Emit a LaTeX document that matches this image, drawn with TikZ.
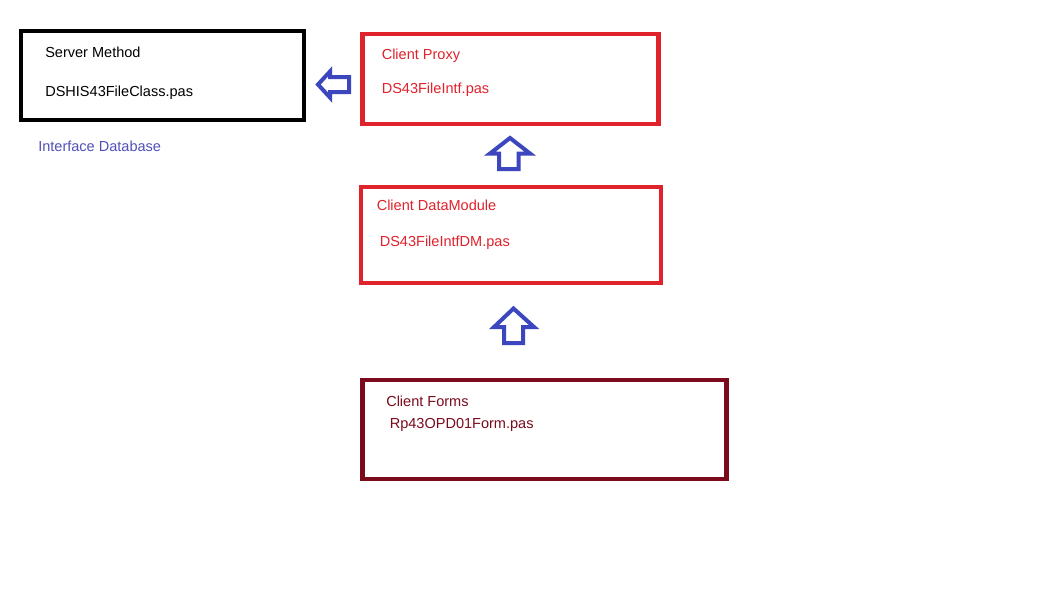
\documentclass[tikz,border=0pt]{standalone}
\usepackage{fontspec}
\setmainfont{Liberation Sans}
\definecolor{boxred}{HTML}{E0222C}
\definecolor{darkred}{HTML}{7A0A1C}
\definecolor{arrowblue}{HTML}{3C46BE}
\definecolor{labelblue}{HTML}{5050B8}
\begin{document}
\begin{tikzpicture}[x=0.75pt,y=-0.75pt,
  box/.style={draw, line width=3.4pt, rectangle, inner sep=0pt, outer sep=0pt, anchor=north west},
  txt/.style={anchor=base west, inner sep=0pt, font=\fontsize{10.9pt}{13pt}\selectfont},
  blockarrow/.style={draw=arrowblue, line width=3pt, line join=miter, fill=white}]
\fill[white] (0,0) rectangle (1049,604);
\useasboundingbox (0,0) rectangle (1049,604);

% boxes
\node[box, draw=black, minimum width=283*0.75pt, minimum height=89*0.75pt] (server) at (21,31) {};
\node[box, draw=boxred, minimum width=296*0.75pt, minimum height=90*0.75pt] (proxy) at (362.5,34) {};
\node[box, draw=boxred, minimum width=300*0.75pt, minimum height=96*0.75pt] (dm) at (361,187) {};
\node[box, draw=darkred, minimum width=364*0.75pt, minimum height=99*0.75pt] (forms) at (362.5,380) {};

% texts
\node[txt] (t1) at (45,57) {Server Method};
\node[txt] (t2) at (45,96) {DSHIS43FileClass.pas};
\node[txt, text=labelblue] (t3) at (38,151.5) {Interface Database};
\node[txt, text=boxred] (t4) at (381.5,59.5) {Client Proxy};
\node[txt, text=boxred] (t5) at (381.5,93.5) {DS43FileIntf.pas};
\node[txt, text=boxred] (t6) at (376.5,210) {Client DataModule};
\node[txt, text=boxred] (t7) at (379.5,246.5) {DS43FileIntfDM.pas};
\node[txt, text=darkred] (t8) at (386,406) {Client Forms};
\node[txt, text=darkred] (t9) at (389.5,428) {Rp43OPD01Form.pas};

% block arrows
\draw[blockarrow] (318,84.5) -- (330,71.5) -- (330,77) -- (349,77) -- (349,92) -- (330,92) -- (330,97.5) -- cycle;
\draw[blockarrow] (510,138) -- (530,153.5) -- (518.5,153.5) -- (518.5,169) -- (499,169) -- (499,153.5) -- (490,153.5) -- cycle;
\draw[blockarrow] (513.5,308.5) -- (534,327) -- (523,327) -- (523,343) -- (504,343) -- (504,327) -- (494,327) -- cycle;
\end{tikzpicture}
\end{document}
